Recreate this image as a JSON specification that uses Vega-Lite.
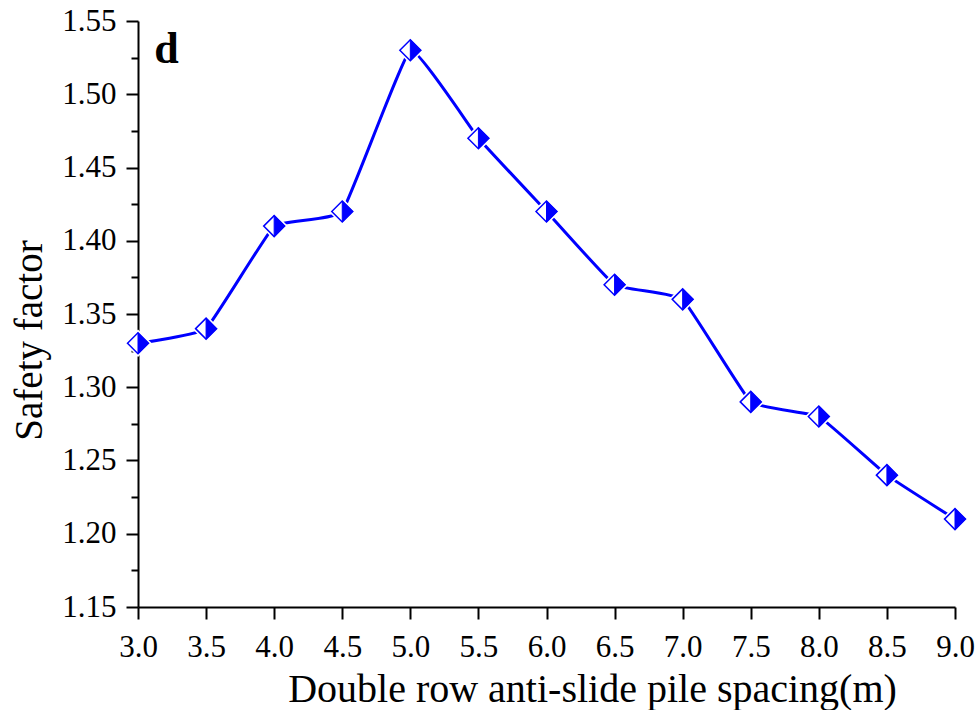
{
  "$schema": "https://vega.github.io/schema/vega-lite/v6.json",
  "width": 817,
  "height": 586,
  "autosize": {"type": "none"},
  "padding": {"left": 138, "top": 21, "right": 23, "bottom": 103},
  "background": "white",
  "config": {
    "view": {"stroke": null},
    "font": "Liberation Serif",
    "axis": {
      "grid": false,
      "domainColor": "black",
      "domainWidth": 2,
      "tickColor": "black",
      "tickWidth": 2,
      "labelColor": "black",
      "labelFont": "Liberation Serif",
      "labelFontSize": 31,
      "titleColor": "black",
      "titleFont": "Liberation Serif",
      "titleFontSize": 39,
      "titleFontWeight": "normal"
    }
  },
  "data": {
    "values": [
      {"spacing": 3.0, "factor": 1.33},
      {"spacing": 3.5, "factor": 1.34},
      {"spacing": 4.0, "factor": 1.41},
      {"spacing": 4.5, "factor": 1.42},
      {"spacing": 5.0, "factor": 1.53},
      {"spacing": 5.5, "factor": 1.47},
      {"spacing": 6.0, "factor": 1.42},
      {"spacing": 6.5, "factor": 1.37},
      {"spacing": 7.0, "factor": 1.36},
      {"spacing": 7.5, "factor": 1.29},
      {"spacing": 8.0, "factor": 1.28},
      {"spacing": 8.5, "factor": 1.24},
      {"spacing": 9.0, "factor": 1.21}
    ]
  },
  "layer": [
    {
      "mark": {"type": "line", "interpolate": "cardinal", "tension": 0.7, "color": "#0000ff", "strokeWidth": 3},
      "encoding": {
        "x": {
          "field": "spacing",
          "type": "quantitative",
          "scale": {"domain": [3, 9], "nice": false, "zero": false},
          "axis": {
            "title": "Double row anti-slide pile spacing(m)",
            "titleFontSize": 40,
            "values": [3, 3.5, 4, 4.5, 5, 5.5, 6, 6.5, 7, 7.5, 8, 8.5, 9],
            "format": ".1f",
            "tickSize": 12,
            "labelPadding": 13,
            "titlePadding": 7,
            "titleX": 454,
            "labelFlush": false,
            "labelOverlap": false
          }
        },
        "y": {
          "field": "factor",
          "type": "quantitative",
          "scale": {"domain": [1.15, 1.55], "nice": false, "zero": false},
          "axis": {
            "orient": "left",
            "title": "Safety factor",
            "values": [1.15, 1.2, 1.25, 1.3, 1.35, 1.4, 1.45, 1.5, 1.55],
            "format": ".2f",
            "tickSize": 12,
            "labelPadding": 10,
            "titlePadding": 12,
            "titleY": 319,
            "labelFlush": false,
            "labelOverlap": false
          }
        }
      }
    },
    {
      "mark": {"type": "point", "shape": "diamond", "filled": true, "fill": "white", "strokeWidth": 0, "size": 760, "opacity": 1},
      "encoding": {
        "x": {"field": "spacing", "type": "quantitative"},
        "y": {"field": "factor", "type": "quantitative", "axis": null}
      }
    },
    {
      "mark": {"type": "point", "shape": "diamond", "filled": true, "fill": "white", "stroke": "#0000ff", "strokeWidth": 1.5, "size": 440, "opacity": 1},
      "encoding": {
        "x": {"field": "spacing", "type": "quantitative"},
        "y": {
          "field": "factor",
          "type": "quantitative",
          "axis": {
            "orient": "left",
            "title": null,
            "domain": false,
            "labels": false,
            "values": [1.175, 1.225, 1.275, 1.325, 1.375, 1.425, 1.475, 1.525],
            "tickSize": 7
          }
        }
      }
    },
    {
      "mark": {"type": "point", "shape": "M0,-1L1,0L0,1Z", "filled": true, "fill": "#0000ff", "stroke": "#0000ff", "strokeWidth": 1, "size": 440, "opacity": 1},
      "encoding": {
        "x": {"field": "spacing", "type": "quantitative"},
        "y": {"field": "factor", "type": "quantitative", "axis": null}
      }
    },
    {
      "data": {"values": [{"x": 3.21, "y": 1.521, "label": "d"}]},
      "mark": {"type": "text", "font": "Liberation Serif", "fontSize": 44, "fontWeight": "bold", "align": "center", "baseline": "alphabetic", "color": "black"},
      "encoding": {
        "x": {"field": "x", "type": "quantitative"},
        "y": {"field": "y", "type": "quantitative", "axis": null},
        "text": {"field": "label"}
      }
    }
  ],
  "resolve": {"axis": {"y": "independent"}}
}
